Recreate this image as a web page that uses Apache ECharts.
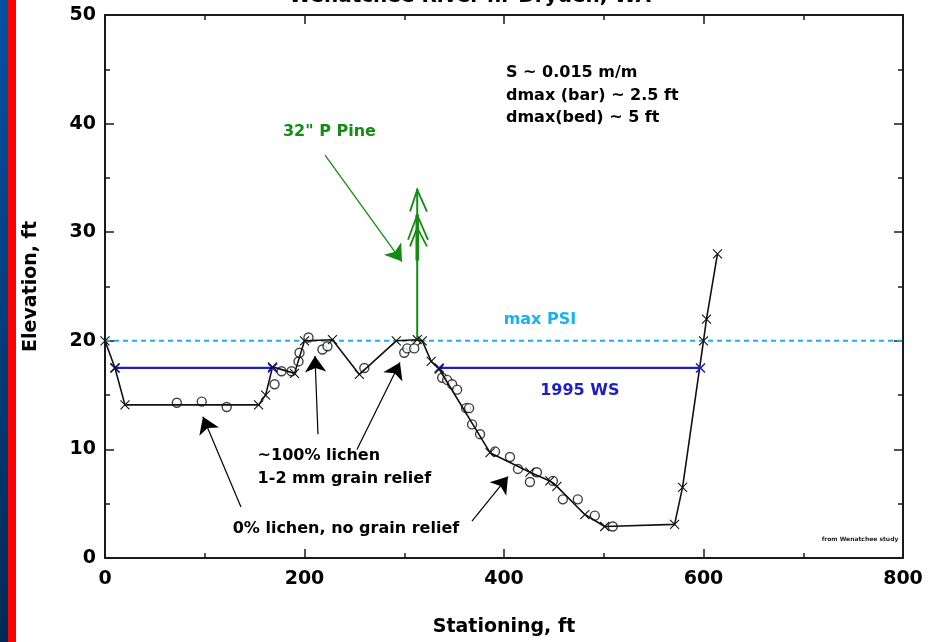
<!DOCTYPE html>
<html>
<head>
<meta charset="utf-8">
<script src="https://cdn.jsdelivr.net/npm/echarts@6/dist/echarts.min.js"></script>
<style>
  html, body { margin: 0; padding: 0; background: #fff; }
  #chart { width: 930px; height: 642px; }
</style>
</head>
<body>
<div id="chart"></div>
<script>
// Surveyed cross-section points (station ft, elevation ft), joined by the ground line
const surveyPoints = [
  [0, 20], [10, 17.5], [20, 14.1], [154, 14.1], [161, 15.0], [168, 17.6],
  [190, 17.0], [200, 20], [228, 20.1], [255, 16.9], [292, 20], [313, 20.1],
  [318, 20], [327, 18.1], [335, 17.4], [386, 9.7], [426, 7.9], [446, 7.1],
  [453, 6.6], [481, 4.0], [501, 2.9], [571, 3.1], [579, 6.5], [600, 20],
  [603, 22], [614, 28]
];

// Additional spot elevations (open circles)
const spotPoints = [
  [72, 14.3], [97, 14.4], [122, 13.9], [170, 16.0], [177, 17.2], [187, 17.2],
  [194, 18.1], [195, 18.9], [204, 20.3], [218, 19.2], [223, 19.5], [260, 17.5],
  [300, 18.9], [303, 19.3], [310, 19.3], [338, 16.6], [343, 16.4], [348, 16.0],
  [353, 15.5], [362, 13.8], [365, 13.8], [368, 12.3], [376, 11.4], [391, 9.8],
  [406, 9.3], [414, 8.2], [433, 7.9], [426, 7.0], [449, 7.1], [459, 5.4],
  [474, 5.4], [491, 3.9], [509, 2.9]
];

// 1995 water surface (two wetted reaches) and max PSI level
const waterSurface = [[10, 17.5], [168, 17.5], '-', [335, 17.5], [597, 17.5]];
const maxPsiLevel = 20;

// 32" ponderosa pine standing on the bar top
const pineBase = [313, 20];
const pineTop = [313, 34];
const pineBranches = [
  [[305.8, 31.9], [313, 33.9], [322.8, 31.9]],
  [[303.8, 29.3], [313, 31.6], [323.8, 29.3]],
  [[305.8, 28.7], [313, 30.4], [322.8, 28.7]]
];

// Leader arrows: [from, to] in (station, elevation)
const pineArrow = [[220.6, 37.1], [297.7, 27.3]];
const noteArrows = [
  [[136.3, 4.7], [98.2, 13.0]],
  [[213.5, 11.4], [210.5, 18.6]],
  [[252.6, 10.0], [295.7, 18.0]],
  [[367.9, 3.4], [404.0, 7.5]]
];

const xTicks = [0, 200, 400, 600, 800];
const yTicks = [0, 10, 20, 30, 40, 50];

const FONT = '"DejaVu Sans", sans-serif';
const GREEN = '#138c13';
const BLUE = '#1e1ec8';
const CYAN = '#19b2ef';

const chart = echarts.init(document.getElementById('chart'), null, { renderer: 'canvas' });

const frameAxis = {
  axisLine: { show: true, onZero: false, lineStyle: { color: '#1a1a1a', width: 2 } },
  axisTick: { show: true, inside: true, length: 9, lineStyle: { color: '#1a1a1a', width: 1.5 } },
  minorTick: { show: true, splitNumber: 2, length: 5, lineStyle: { color: '#1a1a1a', width: 1.5 } },
  splitLine: { show: false }
};

const tickLabel = { fontFamily: FONT, fontWeight: 'bold', fontSize: 19, color: '#000' };

chart.setOption({
  animation: false,
  backgroundColor: '#fff',
  grid: { left: 105, top: 15, right: 27, bottom: 83, containLabel: false },
  xAxis: [
    Object.assign({
      type: 'value', min: xTicks[0], max: xTicks[xTicks.length - 1], interval: 200,
      position: 'bottom',
      name: 'Stationing, ft', nameLocation: 'middle', nameGap: 60,
      nameTextStyle: { fontFamily: FONT, fontWeight: 'bold', fontSize: 19, color: '#000' },
      axisLabel: Object.assign({ margin: 12 }, tickLabel)
    }, frameAxis),
    Object.assign({
      type: 'value', min: xTicks[0], max: xTicks[xTicks.length - 1], interval: 200,
      position: 'top', axisLabel: { show: false }
    }, frameAxis)
  ],
  yAxis: [
    Object.assign({
      type: 'value', min: yTicks[0], max: yTicks[yTicks.length - 1], interval: 10,
      position: 'left',
      name: 'Elevation, ft', nameLocation: 'middle', nameGap: 64,
      nameTextStyle: { fontFamily: FONT, fontWeight: 'bold', fontSize: 19, color: '#000' },
      axisLabel: Object.assign({ margin: 9 }, tickLabel)
    }, frameAxis),
    Object.assign({
      type: 'value', min: yTicks[0], max: yTicks[yTicks.length - 1], interval: 10,
      position: 'right', axisLabel: { show: false }
    }, frameAxis)
  ],
  series: [
    {
      name: 'max PSI', type: 'line', silent: true, symbol: 'none',
      data: [[0, maxPsiLevel], [800, maxPsiLevel]],
      lineStyle: { color: CYAN, width: 2, type: [5, 4] }
    },
    {
      name: '1995 WS', type: 'line', silent: true, connectNulls: false,
      data: waterSurface,
      symbol: 'path://M0 0L10 10M10 0L0 10', symbolSize: 9,
      itemStyle: { color: 'rgba(0,0,0,0)', borderColor: BLUE, borderWidth: 1.6 },
      lineStyle: { color: BLUE, width: 2.2 }
    },
    {
      name: 'survey', type: 'line', silent: true,
      data: surveyPoints,
      symbol: 'path://M0 0L10 10M10 0L0 10', symbolSize: 9,
      itemStyle: { color: 'rgba(0,0,0,0)', borderColor: '#111', borderWidth: 1.1 },
      lineStyle: { color: '#111', width: 1.6 }
    },
    {
      name: 'spot', type: 'scatter', silent: true,
      data: spotPoints,
      symbol: 'circle', symbolSize: 9,
      itemStyle: { color: '#fff', borderColor: '#111', borderWidth: 1.4 }
    },
    {
      name: 'pine', type: 'line', silent: true, symbol: 'none',
      data: [pineBase, pineTop],
      lineStyle: { color: GREEN, width: 2 }
    },
    {
      name: 'pine trunk', type: 'line', silent: true, symbol: 'none',
      data: [[313, 27.4], [313, 31.6]],
      lineStyle: { color: GREEN, width: 3.5 }
    },
    {
      name: 'pine branches', type: 'lines', coordinateSystem: 'cartesian2d', silent: true,
      polyline: true,
      data: pineBranches.map(c => ({ coords: c })),
      lineStyle: { color: GREEN, width: 1.8, opacity: 1 }
    },
    {
      name: 'pine arrow', type: 'lines', coordinateSystem: 'cartesian2d', silent: true,
      data: [{ coords: pineArrow }],
      symbol: ['none', 'arrow'], symbolSize: [13, 16],
      lineStyle: { color: GREEN, width: 1.3, opacity: 1 },
      itemStyle: { color: GREEN }
    },
    {
      name: 'note arrows', type: 'lines', coordinateSystem: 'cartesian2d', silent: true,
      data: noteArrows.map(c => ({ coords: c })),
      symbol: ['none', 'arrow'], symbolSize: [12, 16],
      lineStyle: { color: '#000', width: 1.2, opacity: 1 },
      itemStyle: { color: '#000' }
    }
  ]
});

// Text notes placed in data coordinates
const notes = [
  { text: 'S ~ 0.015 m/m', at: [402, 44.7], align: 'left', color: '#000' },
  { text: 'dmax (bar) ~ 2.5 ft', at: [402, 42.55], align: 'left', color: '#000' },
  { text: 'dmax(bed) ~ 5 ft', at: [402, 40.5], align: 'left', color: '#000' },
  { text: '32" P Pine', at: [225, 39.2], align: 'center', color: GREEN },
  { text: 'max PSI', at: [436, 21.9], align: 'center', color: CYAN },
  { text: '1995 WS', at: [476, 15.35], align: 'center', color: BLUE },
  { text: '~100% lichen', at: [153, 9.4], align: 'left', color: '#000' },
  { text: '1-2 mm grain relief', at: [153, 7.3], align: 'left', color: '#000' },
  { text: '0% lichen, no grain relief', at: [128, 2.7], align: 'left', color: '#000' }
];

const graphics = [
  {
    type: 'rect', left: 0, top: 0, silent: true,
    shape: { width: 8, height: 642 },
    style: {
      fill: new echarts.graphic.LinearGradient(0, 0, 0, 1, [
        { offset: 0, color: '#0052a3' }, { offset: 1, color: '#002a55' }
      ])
    }
  },
  {
    type: 'rect', left: 8, top: 0, silent: true,
    shape: { width: 8, height: 642 },
    style: { fill: '#ff0000' }
  },
  {
    type: 'text', silent: true, x: 470, y: -3,
    style: {
      text: 'Wenatchee River nr Dryden, WA', fontFamily: FONT, fontWeight: 'bold',
      fontSize: 20, fill: '#000', align: 'center', verticalAlign: 'middle'
    }
  },
  {
    type: 'text', silent: true, x: 860, y: 539,
    style: {
      text: 'from Wenatchee study', fontFamily: FONT, fontWeight: 'bold',
      fontSize: 6, fill: '#222', align: 'center', verticalAlign: 'middle'
    }
  }
];

notes.forEach(n => {
  const p = chart.convertToPixel({ gridIndex: 0 }, n.at);
  graphics.push({
    type: 'text', silent: true, x: p[0], y: p[1],
    style: {
      text: n.text, fontFamily: FONT, fontWeight: 'bold', fontSize: 16,
      fill: n.color, align: n.align, verticalAlign: 'middle'
    }
  });
});

chart.setOption({ graphic: graphics });
</script>
</body>
</html>
